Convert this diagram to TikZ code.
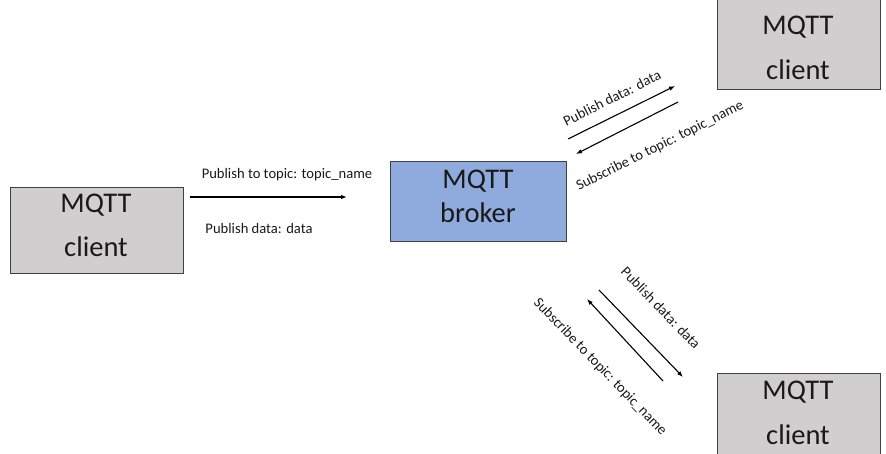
\documentclass[tikz,border=0pt]{standalone}
\usepackage{fontspec}
\setmainfont{Carlito}
\usetikzlibrary{arrows.meta}
\definecolor{clientgray}{HTML}{D0CECE}
\definecolor{brokerblue}{HTML}{8FAADC}
\definecolor{edgegray}{HTML}{404040}
\tikzset{
  x=1pt, y=-1pt,
  box/.style={draw=edgegray, line width=0.9pt, inner sep=0pt},
  bigtext/.style={font=\fontsize{28.5}{32}\selectfont, text=black!90},
  lbl/.style={font=\fontsize{14.6}{16}\selectfont, text=black!90, inner sep=0pt},
  msg/.style={-{Latex[length=6pt,width=4.5pt]}, line width=1.1pt, black}
}
\begin{document}
\begin{tikzpicture}
\useasboundingbox (0,0) rectangle (886,453);
\clip (0,0) rectangle (886,453);

% boxes
\filldraw[box, fill=clientgray] (10,187) rectangle (183,273);
\node[bigtext] (c1a) at (96,205) {MQTT};
\node[bigtext] (c1b) at (96,247) {client};

\filldraw[box, fill=brokerblue] (390,161) rectangle (566,241);
\node[bigtext] (ba) at (478,181) {MQTT};
\node[bigtext] (bb) at (478,213) {broker};

\filldraw[box, fill=clientgray] (717,-10) rectangle (880,89);
\node[bigtext] (c2a) at (798,27) {MQTT};
\node[bigtext] (c2b) at (798,70) {client};

\filldraw[box, fill=clientgray] (717,373) rectangle (880,470);
\node[bigtext] (c3a) at (798,392) {MQTT};
\node[bigtext] (c3b) at (798,435) {client};

% left client -> broker
\coordinate (h1) at (190,197);
\coordinate (h2) at (347,197);
\draw[msg] (h1) -- (h2);
\node[lbl] (l1) at (287,175) {Publish to topic: topic\_name};
\node[lbl] (l2) at (259,228) {Publish data: data};

% broker <-> upper client
\coordinate (u1) at (568,139);
\coordinate (u2) at (675,86);
\coordinate (u3) at (678,102);
\coordinate (u4) at (576,154);
\draw[msg] (u1) -- (u2);
\draw[msg] (u3) -- (u4);
\node[lbl, rotate=26.5] (l3) at (612,98) {Publish data: data};
\node[lbl, rotate=26.5] (l4) at (660,146) {Subscribe to topic: topic\_name};

% broker <-> lower client
\coordinate (d1) at (599,290);
\coordinate (d2) at (683,377);
\coordinate (d3) at (663,381);
\coordinate (d4) at (587,299);
\draw[msg] (d1) -- (d2);
\draw[msg] (d3) -- (d4);
\node[lbl, rotate=-46] (l5) at (661,308) {Publish data: data};
\node[lbl, rotate=-46] (l6) at (600,367) {Subscribe to topic: topic\_name};
\end{tikzpicture}
\end{document}
